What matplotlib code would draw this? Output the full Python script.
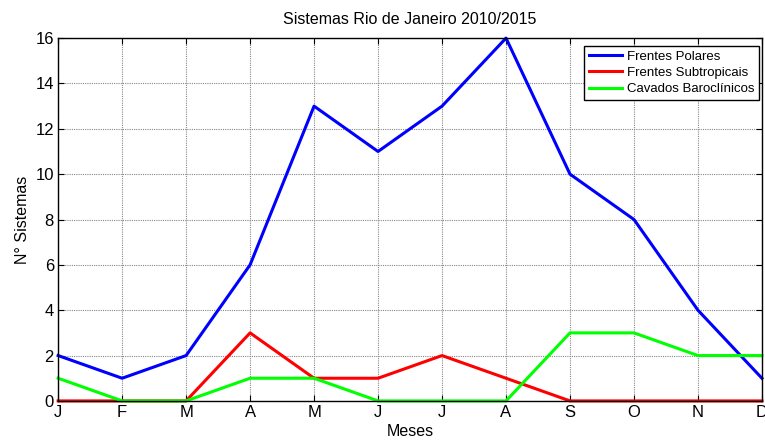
import numpy as np
import matplotlib.pyplot as plt

plt.rcParams['font.family'] = ['Liberation Sans', 'DejaVu Sans']

months = ['J', 'F', 'M', 'A', 'M', 'J', 'J', 'A', 'S', 'O', 'N', 'D']
polares = [2, 1, 2, 6, 13, 11, 13, 16, 10, 8, 4, 1]
subtropicais = [0, 0, 0, 3, 1, 1, 2, 1, 0, 0, 0, 0]
cavados = [1, 0, 0, 1, 1, 0, 0, 0, 3, 3, 2, 2]

x = np.arange(len(months))

fig = plt.figure(figsize=(7.65, 4.43), dpi=100)
ax = fig.add_axes([0.076, 0.095, 0.92, 0.819])

ax.plot(x, polares, color='#0000ff', lw=2.2, label='Frentes Polares', clip_on=False)
ax.plot(x, subtropicais, color='#ff0000', lw=2.2, label='Frentes Subtropicais', clip_on=False)
ax.plot(x, cavados, color='#00ff00', lw=2.2, label='Cavados Baroclínicos', clip_on=False)

ax.set_xlim(0, 11)
ax.set_ylim(0, 16)
ax.set_xticks(x)
ax.set_xticklabels(months)
ax.set_yticks(np.arange(0, 17, 2))
ax.tick_params(direction='in', top=True, right=True, labelsize=12, length=4, width=0.8, pad=3)
ax.grid(True, linestyle=(0, (1, 1)), color='#888888', linewidth=0.8)
for s in ax.spines.values():
    s.set_linewidth(1.0)

ax.set_title('Sistemas Rio de Janeiro 2010/2015', fontsize=11.5, pad=10)
ax.set_xlabel('Meses', fontsize=11.5, labelpad=3)
ax.set_ylabel('N° Sistemas', fontsize=11.5, labelpad=4)

leg = ax.legend(loc='upper right', fontsize=9.5, fancybox=False, framealpha=1,
                edgecolor='black', borderpad=0.35, labelspacing=0.3,
                handlelength=2.5, handletextpad=0.4, borderaxespad=0.6,
                bbox_to_anchor=(1.007, 1.0))
leg.get_frame().set_linewidth(1.0)

fig.savefig('out.png', dpi=100)
